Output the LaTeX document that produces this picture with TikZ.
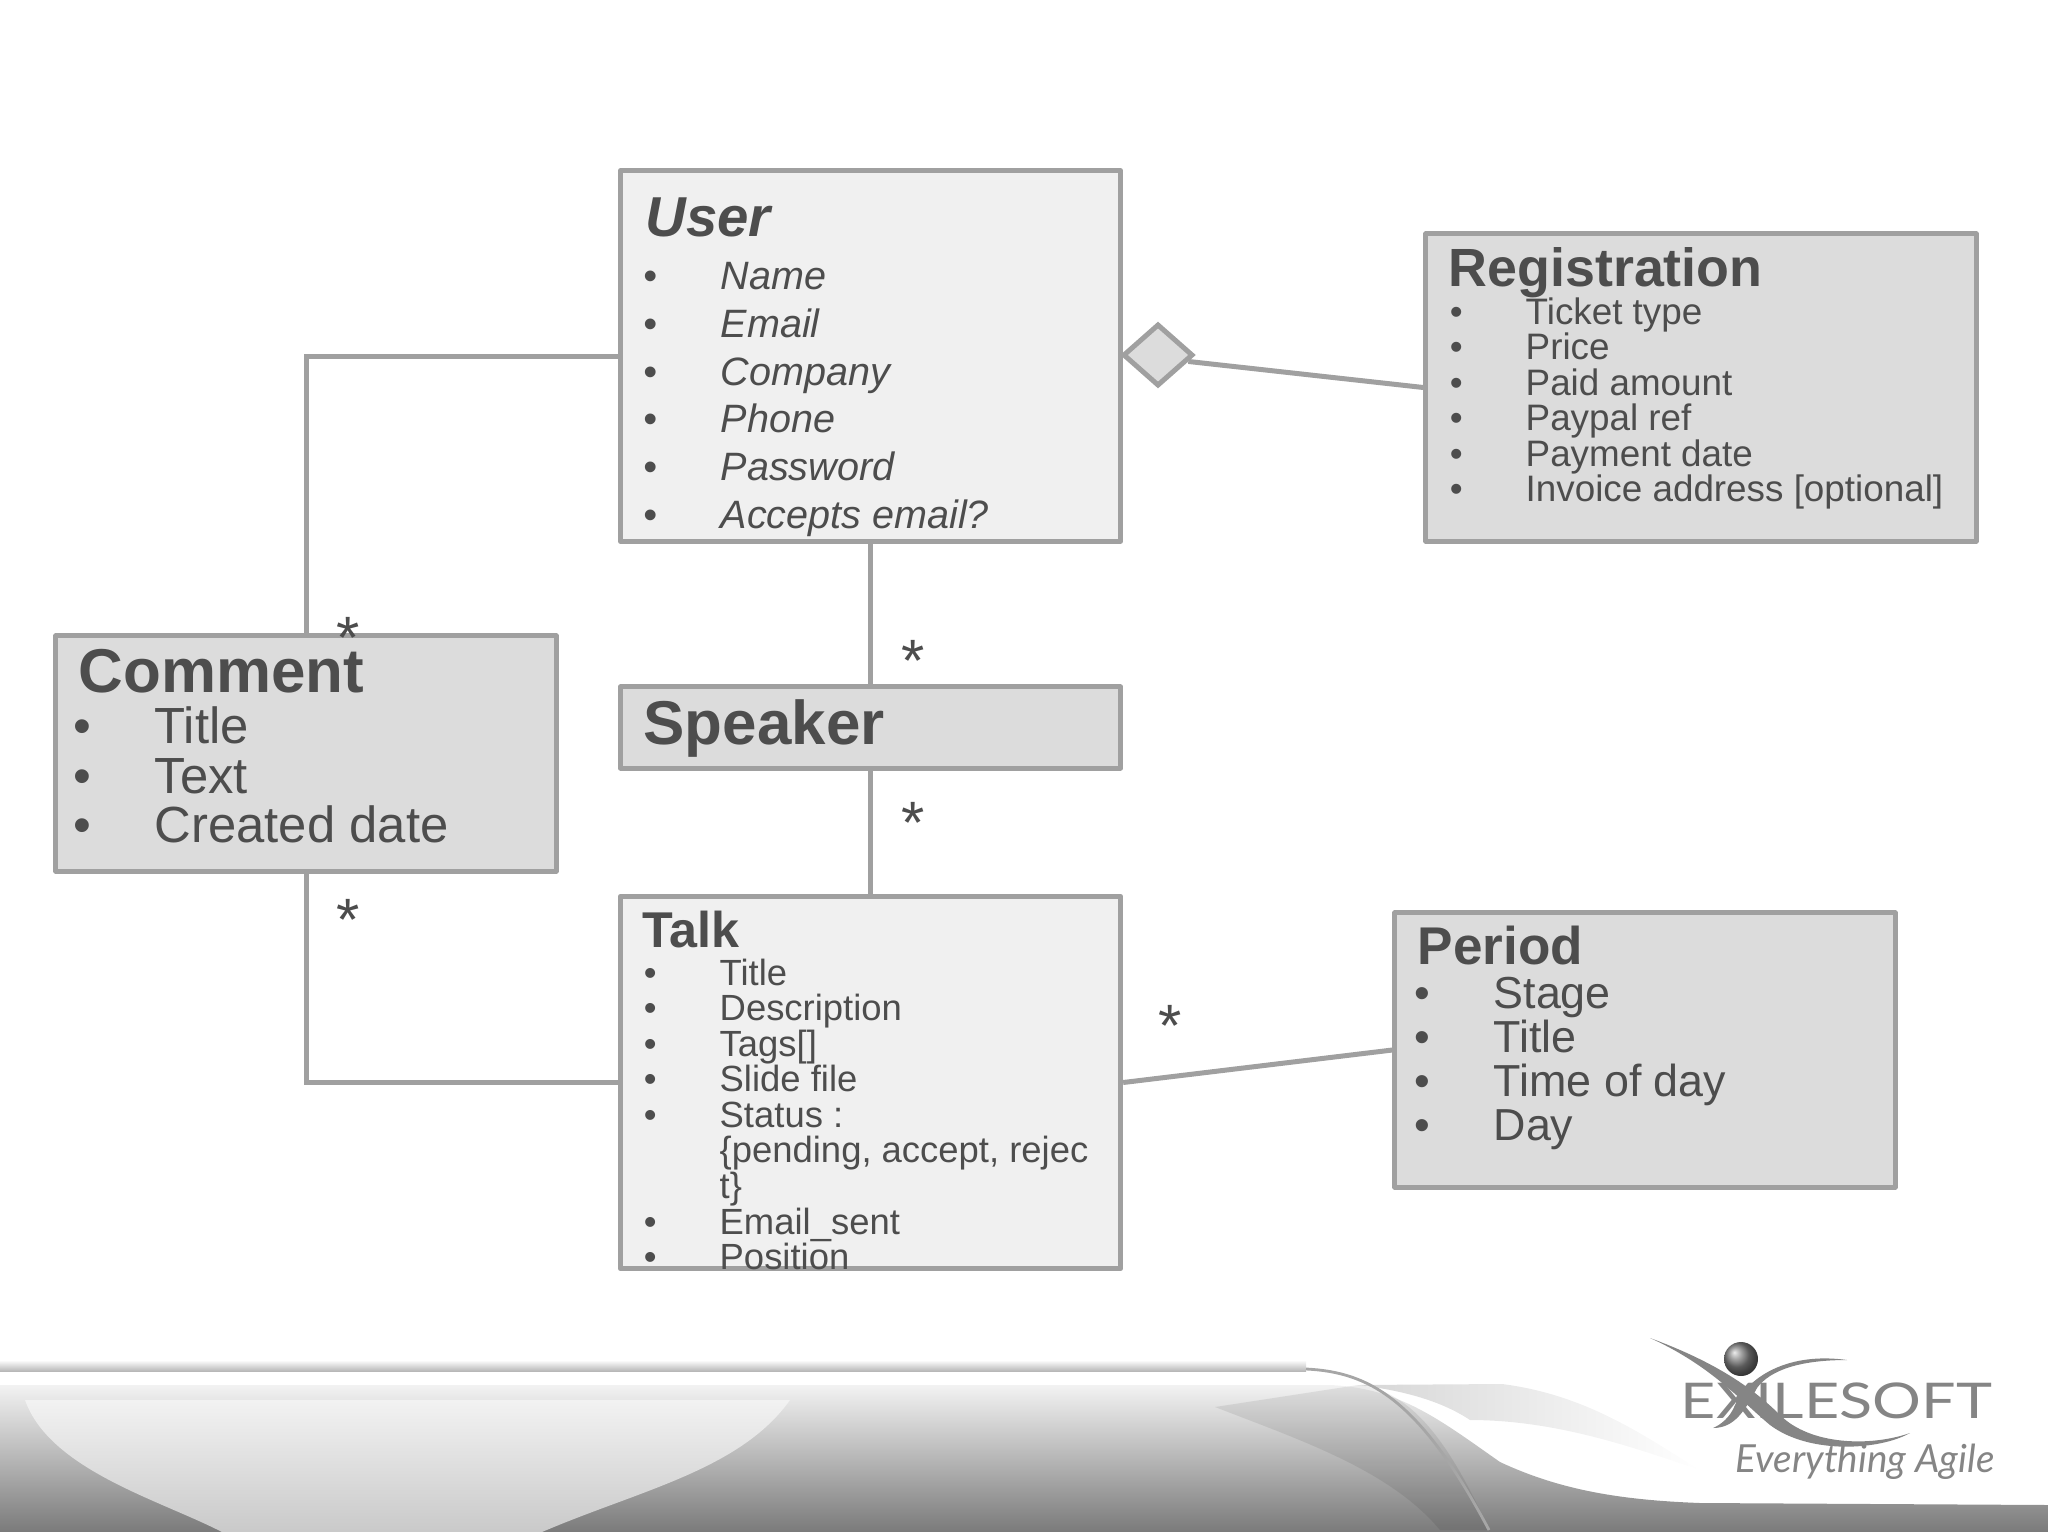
\documentclass[tikz,border=0pt]{standalone}
\usepackage{fontspec}
\setmainfont{Liberation Sans}
\newfontfamily\logofont{Lato}
\usepackage{xcolor}
\usetikzlibrary{shapes.geometric}

\definecolor{boxline}{HTML}{A0A0A0}
\definecolor{boxlight}{HTML}{F0F0F0}
\definecolor{boxdark}{HTML}{DCDCDC}
\definecolor{txtgray}{HTML}{4D4D4D}
\definecolor{logogray}{HTML}{858585}

\newcommand{\bul}{\llap{•\hspace{0.63cm}}}
\newcommand{\pxfont}[1]{\fontsize{#1}{#1}\selectfont}

\tikzset{
    umlbox/.style={draw=boxline, line width=1.42pt, inner sep=0pt, line join=round},
    lightbox/.style={umlbox, fill=boxlight},
    darkbox/.style={umlbox, fill=boxdark},
    assoc/.style={draw=boxline, line width=1.42pt},
    heading/.style={anchor=base west, inner sep=0pt, text=txtgray, font=\bfseries},
    itemline/.style={anchor=base west, inner sep=0pt, text=txtgray},
    starmark/.style={anchor=base, inner sep=0pt, text=txtgray, font=\pxfont{17}},
    swoosh/.style={fill=logogray, draw=none}
}

\begin{document}
\begin{tikzpicture}[x=0.01cm, y=-0.01cm]
    \useasboundingbox (0,0) rectangle (2048,1536);

    % Footer band
    \shade[top color=white, bottom color=white!72!black] (0,1360) rectangle (1306,1371);
    \shade[top color=black!5, bottom color=black!52]
        (0,1385) -- (1330,1385) .. controls (1400,1388) and (1440,1420) .. (1500,1462)
        .. controls (1560,1490) and (1620,1500) .. (1700,1503) -- (2048,1505)
        -- (2048,1532) -- (0,1532) -- cycle;
    \shade[left color=black!16, right color=white]
        (1358,1385) -- (1502,1384) .. controls (1590,1395) and (1650,1440) .. (1700,1470)
        .. controls (1640,1450) and (1560,1420) .. (1470,1420) .. controls (1440,1400) and (1400,1390) .. (1358,1385) -- cycle;
    \fill[black, opacity=0.08]
        (1215,1407) -- (1358,1385) .. controls (1400,1390) and (1440,1420) .. (1489,1530)
        -- (1440,1530) .. controls (1390,1470) and (1300,1440) .. (1215,1407) -- cycle;
    \shade[top color=black!5, bottom color=black!21]
        (25,1400) .. controls (50,1470) and (160,1500) .. (222,1532) -- (542,1532)
        .. controls (640,1490) and (740,1470) .. (790,1400) -- cycle;
    \draw[black!35, line width=0.8pt] (1306,1369) .. controls (1370,1372) and (1420,1400) .. (1489,1530);
    \fill[white] (0,1532) rectangle (2048,1536);

    % Logo
    \node[inner sep=0pt, anchor=base west, text=logogray, xscale=1.24, transform shape, font=\logofont\pxfont{14}] (logoname) at (1680,1418) {EXILESOFT};
    \node[inner sep=0pt, anchor=base west, text=logogray, font=\logofont\itshape\pxfont{11}] (logotag) at (1735,1472) {Everything Agile};
    \shade[ball color=black!50] (1741,1359) circle (17);
    \fill[swoosh] (1650,1338) .. controls (1710,1365) and (1740,1400) .. (1770,1425)
        .. controls (1810,1455) and (1880,1450) .. (1910,1433)
        .. controls (1870,1447) and (1810,1445) .. (1780,1415)
        .. controls (1750,1385) and (1710,1360) .. (1650,1338) -- cycle;
    \fill[swoosh] (1847,1360) .. controls (1790,1352) and (1750,1375) .. (1735,1405)
        .. controls (1730,1418) and (1720,1425) .. (1713,1428)
        .. controls (1735,1428) and (1745,1410) .. (1757,1388)
        .. controls (1770,1370) and (1800,1360) .. (1847,1360) -- cycle;

    % Boxes
    \node[lightbox, minimum width=5cm, minimum height=3.7cm] (user) at (870.5,356) {};
    \node[darkbox, minimum width=5.5cm, minimum height=3.07cm] (registration) at (1701,387.5) {};
    \node[darkbox, minimum width=5cm, minimum height=2.35cm] (comment) at (306,753.5) {};
    \node[darkbox, minimum width=5cm, minimum height=0.81cm] (speaker) at (870.5,727.5) {};
    \node[lightbox, minimum width=5cm, minimum height=3.72cm] (talk) at (870.5,1082.5) {};
    \node[darkbox, minimum width=5cm, minimum height=2.74cm] (period) at (1645,1050) {};
    \node[draw=boxline, fill=boxdark, line width=1.42pt, shape=diamond, inner sep=0pt, minimum width=0.70cm, minimum height=0.62cm] (owner) at (1158,355) {};

    % Connectors
    \draw[assoc] (user.west) -| (comment.north);
    \draw[assoc] (talk.west) -| (comment.south);
    \draw[assoc] (user.south) -- (speaker.north);
    \draw[assoc] (speaker.south) -- (talk.north);
    \draw[assoc] (talk.east) -- (period.west);
    \draw[assoc] (owner.-12) -- (registration.west);

    % Multiplicities
    \node[starmark] (starcomment) at (348,658) {*};
    \node[starmark] (starspeaker) at (913,681) {*};
    \node[starmark] (startalk) at (913,843) {*};
    \node[starmark] (starcommenttalk) at (348,940) {*};
    \node[starmark] (starperiod) at (1170,1046) {*};

    % User
    \node[heading, font=\bfseries\itshape\pxfont{16}] (usertitle) at (645,236) {User};
    \foreach \i/\y/\txt in {1/289/Name, 2/337/Email, 3/385/Company, 4/432/Phone, 5/480/Password, 6/528/Accepts email?}
        \node[itemline, font=\itshape\pxfont{11.25}] (user\i) at (720,\y) {\bul\txt};

    % Registration
    \node[heading, font=\bfseries\pxfont{15.3}] (regtitle) at (1448,286) {Registration};
    \foreach \i/\y/\txt in {1/324/Ticket type, 2/359/Price, 3/395/Paid amount, 4/430/Paypal ref, 5/466/Payment date, 6/501/Invoice address [optional]}
        \node[itemline, font=\pxfont{10.47}] (reg\i) at (1525,\y) {\bul\txt};

    % Comment
    \node[heading, font=\bfseries\pxfont{17.6}] (commenttitle) at (78,692) {Comment};
    \foreach \i/\y/\txt in {1/743/Title, 2/793/Text, 3/842/Created date}
        \node[itemline, font=\pxfont{14.45}] (comment\i) at (154,\y) {\bul\txt};

    % Speaker
    \node[heading, font=\bfseries\pxfont{17.6}] (speakertitle) at (643,744) {Speaker};

    % Talk
    \node[heading, font=\bfseries\pxfont{14.3}] (talktitle) at (642,947) {Talk};
    \foreach \i/\y/\txt in {1/985/Title, 2/1020/Description, 3/1056/Tags[], 4/1091/Slide file, 5/1127/Status :, 6/1234/Email\_sent, 7/1269/Position}
        \node[itemline, font=\pxfont{10.36}] (talk\i) at (719,\y) {\bul\txt};
    \node[itemline, font=\pxfont{10.36}] (talkstatusa) at (719,1162) {\{pending, accept, rejec};
    \node[itemline, font=\pxfont{10.36}] (talkstatusb) at (719,1198) {t\}};

    % Period
    \node[heading, font=\bfseries\pxfont{15.1}] (periodtitle) at (1417,964) {Period};
    \foreach \i/\y/\txt in {1/1008/Stage, 2/1052/Title, 3/1096/Time of day, 4/1140/Day}
        \node[itemline, font=\pxfont{12.75}] (period\i) at (1493,\y) {\bul\txt};
\end{tikzpicture}
\end{document}
